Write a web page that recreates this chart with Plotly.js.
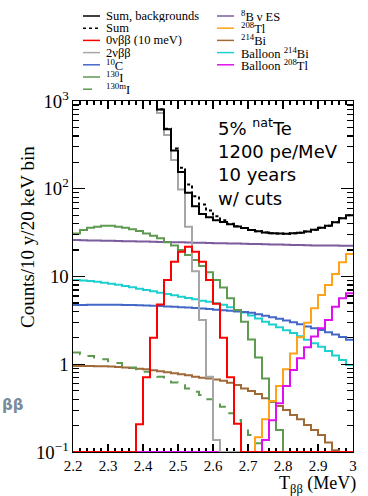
<!DOCTYPE html>
<html><head><meta charset="utf-8">
<script src="https://cdn.plot.ly/plotly-3.0.1.min.js"></script>
<style>html,body{margin:0;padding:0;background:#fff}#chart{width:368px;height:496px}</style>
</head><body><div id="chart"></div>
<script>
// Bin edges (MeV), 20 keV bins
const binEdges = [2.20,2.22,2.24,2.26,2.28,2.30,2.32,2.34,2.36,2.38,2.40,2.42,2.44,2.46,2.48,2.50,2.52,2.54,2.56,2.58,2.60,2.62,2.64,2.66,2.68,2.70,2.72,2.74,2.76,2.78,2.80,2.82,2.84,2.86,2.88,2.90,2.92,2.94,2.96,2.98,3.00];

// Counts per bin (40 bins)
const sumBackgrounds = [23570,20360,17360,14560,11860,9460,7360,5560,4060,2860,1960,1310,800,475,272,155,90,63,51.5,47.3,43.8,41.7,39.3,37.2,35.6,33.9,32.7,31.8,31.2,30.9,30.8,31.2,31.6,32.5,34.0,35.9,37.9,41.6,46.0,49.9];
const sumAll = [23570,20360,17360,14560,11860,9460,7360,5560,4060,2860,1961,1312,805,484,287,174,112,82,66,56.4,48.7,43.7,40.0,37.4,35.6,33.9,32.7,31.8,31.2,30.9,30.8,31.2,31.6,32.5,34.0,35.9,37.9,41.6,46.0,49.9];
const zeroNuBB = [0,0,0,0,0,0,0,0,0,0.207,0.71,2.0,4.8,9.1,14.7,19.2,21.9,19.2,14.7,9.1,4.9,2.0,0.71,0.21,0,0,0,0,0,0,0,0,0,0,0,0,0,0,0,0];
const twoNuBB = [23500,20300,17300,14500,11800,9400,7300,5500,4000,2800,1900,1250,728,409,213,98,37,11.5,3.19,0.72,0.137,0,0,0,0,0,0,0,0,0,0,0,0,0,0,0,0,0,0,0];
const c10 = [4.72,4.74,4.75,4.76,4.76,4.76,4.75,4.74,4.72,4.70,4.67,4.64,4.60,4.56,4.52,4.47,4.42,4.37,4.31,4.25,4.19,4.13,4.07,4.0,3.94,3.86,3.72,3.58,3.43,3.29,3.15,3.02,2.85,2.70,2.57,2.45,2.31,2.18,2.04,1.9];
const i130 = [31.0,33.9,36.0,37.0,37.9,37.9,37.0,36.0,34.5,33.0,31.0,29.2,27.2,24.5,22.5,20.0,17.6,15.4,13.2,11.2,9.1,7.5,5.65,4.15,3.06,1.92,1.19,0.69,0.374,0.178,0,0,0,0,0,0,0,0,0,0];
const i130m = [1.36,1.30,1.24,1.19,1.14,1.08,1.03,0.97,0.92,0.877,0.82,0.774,0.72,0.67,0.62,0.575,0.53,0.487,0.446,0.40,0.359,0.328,0.276,0.232,0.194,0.156,0.126,0,0,0,0,0,0,0,0,0,0,0,0,0];
const b8 = [26.0,25.9,25.8,25.7,25.6,25.5,25.4,25.3,25.2,25.1,25.0,24.9,24.8,24.7,24.6,24.5,24.4,24.3,24.2,24.1,24.0,23.9,23.8,23.7,23.6,23.5,23.4,23.3,23.2,23.1,23.0,22.9,22.8,22.7,22.6,22.6,22.5,22.5,22.4,22.4];
const tl208 = [0,0,0,0,0,0,0,0,0,0,0,0,0,0,0,0,0,0,0,0,0,0,0,0,0,0,0.147,0.236,0.38,0.565,0.877,1.33,2.03,2.98,4.35,6.15,8.0,10.7,14.5,18.0];
const bi214 = [0.955,0.955,0.955,0.948,0.948,0.94,0.93,0.92,0.906,0.89,0.877,0.853,0.83,0.81,0.788,0.768,0.748,0.72,0.70,0.69,0.67,0.65,0.616,0.58,0.53,0.495,0.458,0.41,0.374,0.334,0.301,0.264,0.236,0.203,0.178,0.156,0.128,0.105,0,0];
const balloonBi214 = [9.12,9.0,8.89,8.73,8.5,8.27,8.07,7.79,7.53,7.26,7.01,6.77,6.53,6.32,6.11,5.89,5.69,5.49,5.3,5.15,4.96,4.75,4.45,4.15,3.88,3.6,3.32,3.06,2.84,2.64,2.44,2.27,2.08,1.9,1.74,1.58,1.42,1.26,1.12,0.98];
const balloonTl208 = [0,0,0,0,0,0,0,0,0,0,0,0,0,0,0,0,0,0,0,0,0,0,0,0,0,0,0,0.137,0.23,0.36,0.565,0.86,1.17,1.56,2.07,2.58,3.19,4.52,5.65,6.44];

// Texts
const xTitle = 'T<sub>ββ</sub> (MeV)';
const yTitle = 'Counts/10 y/20 keV bin';
const infoLines = ['5% <sup>nat</sup>Te', '1200 pe/MeV', '10 years', 'w/ cuts'];
const legendLeft = ['Sum, backgrounds','Sum','0νββ (10 meV)','2νββ','<sup>10</sup>C','<sup>130</sup>I','<sup>130m</sup>I'];
const legendRight = ['<sup>8</sup>B ν ES','<sup>208</sup>Tl','<sup>214</sup>Bi','Balloon <sup>214</sup>Bi','Balloon <sup>208</sup>Tl'];

const yMin = 0.1; // empty bins drawn on the frame bottom (ROOT style)

const series = [
  {name:'<sup>8</sup>B ν ES', y:b8, color:'#7b5c9c', dash:'solid'},
  {name:'Balloon <sup>214</sup>Bi', y:balloonBi214, color:'#1fd0d0', dash:'solid'},
  {name:'<sup>10</sup>C', y:c10, color:'#4468c8', dash:'solid'},
  {name:'<sup>214</sup>Bi', y:bi214, color:'#a06a38', dash:'solid'},
  {name:'<sup>130</sup>I', y:i130, color:'#5e9a52', dash:'solid'},
  {name:'<sup>130m</sup>I', y:i130m, color:'#5e9a52', dash:'dash'},
  {name:'<sup>208</sup>Tl', y:tl208, color:'#ffa21a', dash:'solid'},
  {name:'Balloon <sup>208</sup>Tl', y:balloonTl208, color:'#e010ee', dash:'solid'},
  {name:'2νββ', y:twoNuBB, color:'#a6a6a6', dash:'solid'},
  {name:'0νββ (10 meV)', y:zeroNuBB, color:'#ff0000', dash:'solid'},
  {name:'Sum, backgrounds', y:sumBackgrounds, color:'#000000', dash:'solid'},
  {name:'Sum', y:sumAll, color:'#000000', dash:'dot'}
];

const traces = series.map(s => {
  const yy = s.y.map(v => v > 0 ? v : yMin);
  yy.push(yy[yy.length-1]);
  return {x: binEdges, y: yy, type:'scatter', mode:'lines', name:s.name,
          line:{shape:'hv', color:s.color, width:2, dash:s.dash},
          showlegend:false, hoverinfo:'skip'};
});

const W = 368, H = 496, L = 73, R = 353, T = 101, B = 452;
const px2x = p => (p - L) / (R - L);
const px2y = p => (B - p) / (B - T);

// Legend (drawn manually to reproduce the compact ROOT legend)
const shapes = [], annotations = [];
function addLegendColumn(names, x0, x1, xt, y0, dy) {
  names.forEach((nm, i) => {
    const s = series.find(q => q.name === nm);
    const yp = y0 + i * dy;
    shapes.push({type:'line', xref:'paper', yref:'paper', x0:px2x(x0), x1:px2x(x1), y0:px2y(yp), y1:px2y(yp),
      line:{color:s.color, width:1.5, dash:s.dash}});
    annotations.push({xref:'paper', yref:'paper', x:px2x(xt), y:px2y(yp), xanchor:'left', yanchor:'middle',
      height:12, valign:'middle',
      text:nm, showarrow:false, font:{family:'Liberation Serif', size:12.5, color:'#000'}});
  });
}
addLegendColumn(legendLeft, 83, 100, 104, 16, 12.2);
addLegendColumn(legendRight, 217, 234, 239, 16, 12.2);

annotations.push({xref:'paper', yref:'paper', x:px2x(216), y:px2y(113), xanchor:'left', yanchor:'top', align:'left',
  text:infoLines.join('<br>'), showarrow:false,
  font:{family:'DejaVu Sans', size:18, color:'#000'}});
annotations.push({xref:'paper', yref:'paper', x:px2x(27), y:px2y(237), xanchor:'center', yanchor:'middle', textangle:-90,
  text:yTitle, showarrow:false, font:{family:'Liberation Serif', size:19, color:'#000'}});
annotations.push({xref:'paper', yref:'paper', x:px2x(358), y:px2y(484), xanchor:'right', yanchor:'middle',
  text:xTitle, showarrow:false, font:{family:'Liberation Serif', size:18, color:'#000'}});
annotations.push({xref:'paper', yref:'paper', x:px2x(0), y:px2y(405), xanchor:'left', yanchor:'middle',
  text:'<b>ββ</b>', showarrow:false, font:{family:'DejaVu Sans', size:15, color:'#7a8b9c'}});

const axFont = {family:'Liberation Serif', size:15, color:'#000'};
const layout = {
  width:W, height:H, margin:{l:L, r:W-R, t:T, b:H-B},
  paper_bgcolor:'#fff', plot_bgcolor:'rgba(0,0,0,0)', showlegend:false,
  xaxis:{range:[2.2,3.0], tick0:2.2, dtick:0.1, ticks:'inside', ticklen:8, tickwidth:1.3, tickcolor:'#000',
    mirror:'allticks', showline:true, linecolor:'#000', linewidth:1.3, showgrid:false, zeroline:false,
    layer:'below traces',
    minor:{ticks:'inside', ticklen:4, tick0:2.2, dtick:0.02, tickcolor:'#000', tickwidth:1.2, showgrid:false},
    tickfont:axFont},
  yaxis:{type:'log', range:[-1,3], dtick:1, exponentformat:'power', ticks:'inside', ticklen:12, tickwidth:1.3, tickcolor:'#000',
    mirror:'allticks', showline:true, linecolor:'#000', linewidth:1.3, showgrid:false, zeroline:false,
    minor:{ticks:'inside', ticklen:6, dtick:'D1', tickcolor:'#000', tickwidth:1.2, showgrid:false},
    tickfont:axFont},
  shapes:shapes, annotations:annotations
};

Plotly.newPlot('chart', traces, layout, {staticPlot:true, displayModeBar:false});
</script></body></html>
